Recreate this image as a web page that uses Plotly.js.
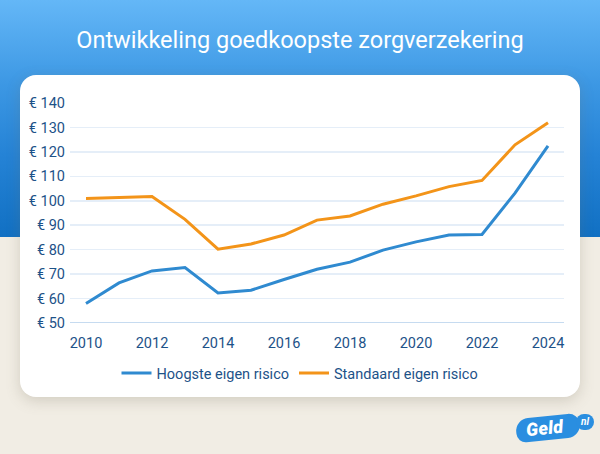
<!DOCTYPE html>
<html>
<head>
<meta charset="utf-8">
<script src="https://cdn.plot.ly/plotly-3.0.1.min.js"></script>
<style>
  html, body { margin: 0; padding: 0; }
  body { width: 600px; height: 454px; position: relative; overflow: hidden;
         background: #f1ede4; font-family: Roboto, sans-serif; }
  #bg { position: absolute; left: 0; top: 0; width: 600px; height: 237px;
        background: linear-gradient(to bottom, #64b7f7 0%, #3d98e4 35%, #2583d6 65%, #1170c3 100%); }
  #card { position: absolute; left: 20px; top: 75px; width: 560px; height: 322px;
          background: #ffffff; border-radius: 16px;
          box-shadow: 0 4px 14px rgba(120, 110, 90, 0.25); }
  #chart { position: absolute; left: 0; top: 0; width: 600px; height: 454px; }
  #logo { position: absolute; left: 516px; top: 416px; width: 64px; height: 24px;
          background: #2a8ee0; border-radius: 14px 12px 14px 10px; transform: rotate(-6deg); }
  #logo span.g { position: absolute; left: 10px; top: 1px; color: #fff; font: italic 900 18px Roboto, sans-serif; letter-spacing: 0.3px; }
  #nl { position: absolute; left: 576px; top: 414px; width: 18px; height: 16px; background: #2a8ee0;
        border-radius: 9px; color: #fff; font: italic 700 10px Roboto, sans-serif; text-align: center; line-height: 15px; }
</style>
</head>
<body>
<div id="bg"></div>
<div id="card"></div>
<div id="chart"></div>
<div id="logo"><span class="g">Geld</span></div>
<div id="nl">nl</div>
<script>
const years = [2010, 2011, 2012, 2013, 2014, 2015, 2016, 2017, 2018, 2019, 2020, 2021, 2022, 2023, 2024];
const hoogste = [58.0, 66.4, 71.3, 72.7, 62.3, 63.4, 67.8, 72.0, 74.9, 79.8, 83.2, 86.0, 86.2, 103.1, 122.5];
const standaard = [100.9, 101.4, 101.7, 92.4, 80.2, 82.3, 86.0, 92.1, 93.8, 98.6, 102.0, 105.8, 108.3, 122.9, 131.9];
const seriesNames = ['Hoogste eigen risico', 'Standaard eigen risico'];
const xTicks = [2010, 2012, 2014, 2016, 2018, 2020, 2022, 2024];
const yTicks = [50, 60, 70, 80, 90, 100, 110, 120, 130, 140];
const yTickLabels = ['€ 50', '€ 60', '€ 70', '€ 80', '€ 90', '€ 100', '€ 110', '€ 120', '€ 130', '€ 140'];
const titleText = 'Ontwikkeling goedkoopste zorgverzekering';

const textColor = '#1d5288';
const traces = [
  { x: years, y: hoogste, name: seriesNames[0], type: 'scatter', mode: 'lines',
    line: { color: '#2f8ad0', width: 3 } },
  { x: years, y: standaard, name: seriesNames[1], type: 'scatter', mode: 'lines',
    line: { color: '#f39419', width: 3 } }
];
const layout = {
  width: 600, height: 454,
  paper_bgcolor: 'rgba(0,0,0,0)', plot_bgcolor: 'rgba(0,0,0,0)',
  margin: { l: 70, r: 36, t: 103, b: 131.3 },
  title: { text: titleText, x: 0.5, xanchor: 'center', y: 1 - 40 / 454, yanchor: 'middle',
           font: { family: 'Roboto, sans-serif', size: 23.5, color: '#ffffff' } },
  font: { family: 'Roboto, sans-serif', size: 14, color: textColor },
  xaxis: { range: [2009.515, 2024.485], tickmode: 'array', tickvals: xTicks, ticktext: xTicks.map(String),
           showgrid: false, zeroline: false, showline: false, ticks: '', ticklen: 0,
           ticklabelstandoff: 9,
           tickfont: { size: 14.5, color: textColor }, fixedrange: true },
  yaxis: { range: [50, 140], tickmode: 'array', tickvals: yTicks, ticktext: yTickLabels, showgrid: true,
           gridcolor: '#e5eef8', gridwidth: 1.5, zeroline: false, showline: false, ticks: '',
           ticklabelstandoff: 4,
           tickfont: { size: 14.5, color: textColor }, fixedrange: true },
  shapes: [
    { type: 'line', xref: 'paper', yref: 'y', x0: 0, x1: 1, y0: 50, y1: 50,
      line: { color: '#c6dbf0', width: 2 }, layer: 'below' }
  ],
  showlegend: true,
  legend: { orientation: 'h', x: 0.5, xanchor: 'center', xref: 'container', yref: 'container',
            y: 1 - 373 / 454, yanchor: 'middle', font: { size: 14.5, color: textColor },
            bgcolor: 'rgba(0,0,0,0)', itemwidth: 30, traceorder: 'normal' }
};
Plotly.newPlot('chart', traces, layout, { displayModeBar: false, staticPlot: true });
</script>
</body>
</html>
